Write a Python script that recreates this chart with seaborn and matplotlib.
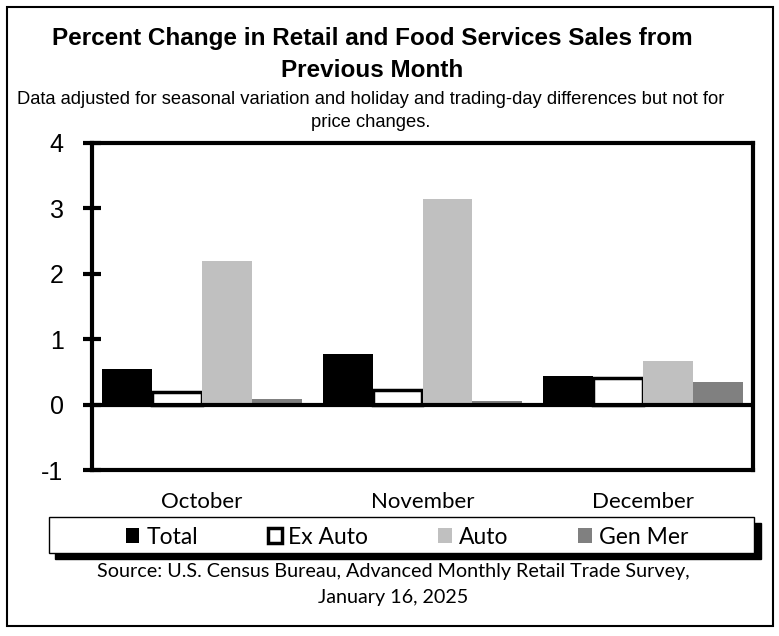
import pandas as pd
import matplotlib
matplotlib.use("Agg")
import matplotlib.pyplot as plt
from matplotlib.patches import Patch, Rectangle
import seaborn as sns

# --- data ---
months = ["October", "November", "December"]
series = ["Total", "Ex Auto", "Auto", "Gen Mer"]
total = [0.55, 0.77, 0.44]
ex_auto = [0.20, 0.23, 0.41]
auto = [2.19, 3.14, 0.66]
gen_mer = [0.08, 0.05, 0.34]
y_ticks = [-1, 0, 1, 2, 3, 4]

colors = {"Total": "#000000", "Ex Auto": "#FFFFFF", "Auto": "#C0C0C0", "Gen Mer": "#808080"}

df = pd.DataFrame({
    "month": months * 4,
    "series": [s for s in series for _ in months],
    "value": total + ex_auto + auto + gen_mer,
})

sns.set_style("white")
plt.rcParams["font.family"] = ["Liberation Sans", "DejaVu Sans"]
plt.rcParams["text.color"] = "black"
plt.rcParams["xtick.color"] = "black"
plt.rcParams["ytick.color"] = "black"

W, H = 779, 636
fig = plt.figure(figsize=(W / 100, H / 100), dpi=100)


def fx(px):
    return px / W


def fy(py):
    return 1 - py / H


ax = fig.add_axes([fx(92), fy(470), fx(753 - 92), (470 - 143) / H])

sns.barplot(data=df, x="month", y="value", hue="series", hue_order=series,
            order=months, palette=colors, width=0.905, saturation=1,
            legend=False, ax=ax, zorder=2)

# Ex Auto bars: white with heavy black outline
for i, cont in enumerate(ax.containers):
    for bar in cont:
        if series[i] == "Ex Auto":
            bar.set_edgecolor("black")
            bar.set_linewidth(2.5)
        else:
            bar.set_edgecolor(colors[series[i]])
            bar.set_linewidth(0)

ax.axhline(0, color="black", lw=3, zorder=3)
ax.set_xlim(-0.5, 2.5)
ax.set_ylim(-1, 4)
ax.set_yticks(y_ticks)
ax.set_yticklabels([str(t) for t in y_ticks], fontsize=18)
ax.set_xlabel("")
ax.set_ylabel("")
for sp in ax.spines.values():
    sp.set_visible(True)
    sp.set_color("black")
    sp.set_linewidth(3)
ax.tick_params(axis="y", direction="inout", length=13, width=3, pad=14, left=True, colors="black")
ax.tick_params(axis="x", length=0, pad=16, colors="black")
for lab in ax.get_xticklabels():
    lab.set_fontfamily("Lato")
    lab.set_fontsize(16)

# titles
fig.text(fx(372), fy(45), "Percent Change in Retail and Food Services Sales from",
         ha="center", va="baseline", fontsize=17.5, fontweight="bold")
fig.text(fx(372), fy(77), "Previous Month",
         ha="center", va="baseline", fontsize=17.5, fontweight="bold")
fig.text(fx(371), fy(104), "Data adjusted for seasonal variation and holiday and trading-day differences but not for",
         ha="center", va="baseline", fontsize=13.2)
fig.text(fx(371), fy(127), "price changes.",
         ha="center", va="baseline", fontsize=13.2)

# legend box with hard shadow
fig.patches.append(Rectangle((fx(55), fy(559)), fx(706), 36 / H, transform=fig.transFigure,
                             facecolor="black", edgecolor="black", zorder=1))
fig.patches.append(Rectangle((fx(49), fy(553)), fx(705), 36 / H, transform=fig.transFigure,
                             facecolor="white", edgecolor="black", lw=1, zorder=2))
handles = [Patch(facecolor=colors[s], edgecolor="black" if s == "Ex Auto" else colors[s],
                 linewidth=2.5 if s == "Ex Auto" else 0) for s in series]
leg = fig.legend(handles, series, loc="center", bbox_to_anchor=(fx(407), fy(537)),
                 ncol=4, frameon=False, prop={"family": "Lato", "size": 16.5},
                 handlelength=0.6, handleheight=0.6, handletextpad=0.3,
                 columnspacing=3.05, borderaxespad=0)
leg.set_zorder(5)

# source
fig.text(fx(393), fy(577), "Source: U.S. Census Bureau, Advanced Monthly Retail Trade Survey,",
         ha="center", va="baseline", fontsize=14.2, fontfamily="Lato")
fig.text(fx(393), fy(603), "January 16, 2025",
         ha="center", va="baseline", fontsize=14.2, fontfamily="Lato")

# outer frame
fig.patches.append(Rectangle((fx(7), fy(626)), fx(766), (626 - 7) / H, transform=fig.transFigure,
                             facecolor="none", edgecolor="black", lw=1.5, zorder=0))

fig.savefig("out.png", dpi=100)
